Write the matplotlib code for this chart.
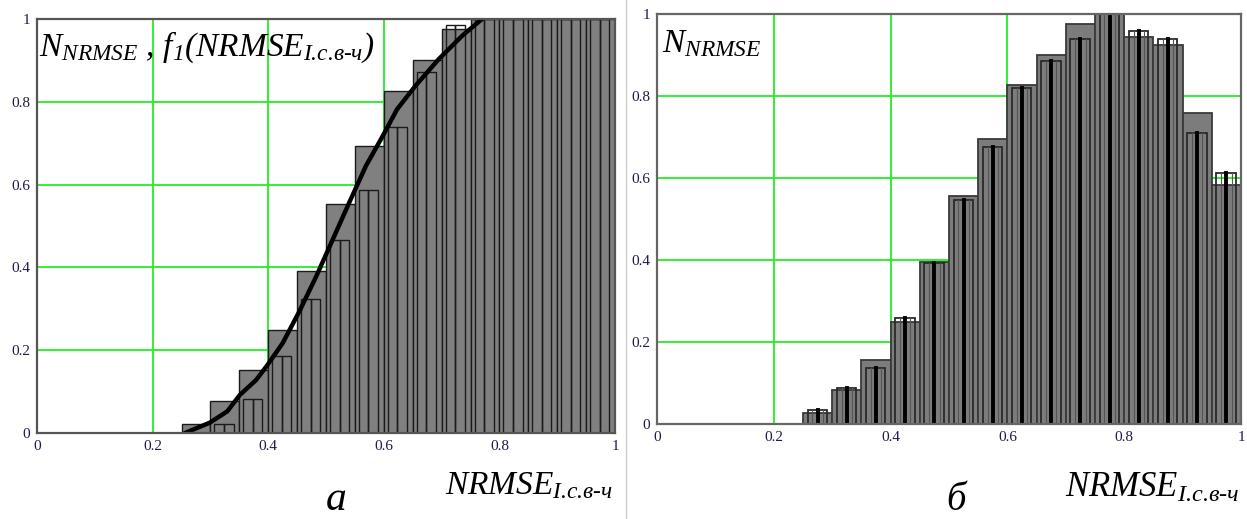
import matplotlib.pyplot as plt
from matplotlib.lines import Line2D

plt.rcParams['mathtext.fontset'] = 'custom'
plt.rcParams['mathtext.rm'] = 'Liberation Serif:italic'
plt.rcParams['mathtext.it'] = 'Liberation Serif:italic'
plt.rcParams['font.family'] = ['Liberation Serif', 'DejaVu Serif']

# bin left edges (bin width 0.05)
bin_left = [0.25, 0.30, 0.35, 0.40, 0.45, 0.50, 0.55, 0.60, 0.65, 0.70,
            0.75, 0.80, 0.85, 0.90, 0.95]

# panel a: wide bars, narrow bars, smooth curve f1
a_wide = [0.022, 0.078, 0.153, 0.248, 0.391, 0.554, 0.693, 0.826, 0.901, 0.976,
          1.0, 1.0, 1.0, 1.0, 1.0]
a_narrow = [0.0, 0.022, 0.082, 0.187, 0.324, 0.467, 0.587, 0.739, 0.872, 0.986,
            1.0, 1.0, 1.0, 1.0, 1.0]
curve_x = [0.256, 0.299, 0.329, 0.351, 0.379, 0.397, 0.425, 0.454, 0.483, 0.509,
           0.540, 0.569, 0.598, 0.623, 0.655, 0.695, 0.736, 0.770]
curve_y = [0.0, 0.025, 0.052, 0.092, 0.128, 0.161, 0.217, 0.294, 0.378, 0.459,
           0.556, 0.645, 0.717, 0.782, 0.839, 0.903, 0.960, 1.0]

# panel b: wide bars and narrow bars
b_wide = [0.026, 0.083, 0.156, 0.250, 0.394, 0.556, 0.694, 0.827, 0.900, 0.975,
          1.0, 0.945, 0.924, 0.758, 0.583]
b_narrow = [0.033, 0.089, 0.136, 0.259, 0.393, 0.546, 0.675, 0.819, 0.885, 0.939,
            1.0, 0.959, 0.938, 0.709, 0.611]

ticks = [0, 0.2, 0.4, 0.6, 0.8, 1]
tick_labels = ['0', '0.2', '0.4', '0.6', '0.8', '1']

SUB = r'\text{I.с.в-ч}'

W, H = 1247, 519
fig = plt.figure(figsize=(W / 100, H / 100), dpi=100)


def px_axes(x0, y0, x1, y1):
    return fig.add_axes([x0 / W, 1 - y1 / H, (x1 - x0) / W, (y1 - y0) / H])


def style_axes(ax, edge):
    ax.set_xlim(0, 1)
    ax.set_ylim(0, 1)
    ax.set_xticks(ticks)
    ax.set_yticks(ticks)
    ax.set_xticklabels(tick_labels)
    ax.set_yticklabels(tick_labels)
    ax.tick_params(length=0, labelsize=11, labelcolor='#1c1c48', pad=5)
    ax.set_axisbelow(True)
    ax.grid(True, color='#22ee22', lw=1.3)
    for s in ax.spines.values():
        s.set_color(edge)
        s.set_linewidth(1.6)


w = 0.05

# ---- panel a ----
ax1 = px_axes(37, 19, 615, 433)
style_axes(ax1, '#555555')
ax1.bar(bin_left, a_wide, width=w, align='edge', color='#808080',
        edgecolor='#1a1a1a', lw=1.0)
sub_w = 0.0165
for xl, h in zip(bin_left, a_narrow):
    if h <= 0:
        continue
    ax1.bar([xl + 0.007, xl + 0.007 + sub_w], [h, h], width=sub_w, align='edge',
            facecolor='none', edgecolor='#1a1a1a', lw=1.0)
ax1.plot(curve_x, curve_y, color='black', lw=3.2, solid_capstyle='round')
ax1.text(0.003, 0.975, r'$N_{NRMSE}\ ,\,f_{1}(NRMSE_{' + SUB + '})$',
         transform=ax1.transAxes, fontsize=24, va='top', ha='left')

# ---- panel b ----
ax2 = px_axes(657, 14, 1241, 424)
style_axes(ax2, '#666666')
ax2.bar(bin_left, b_wide, width=w, align='edge', color='#7c7c7c',
        edgecolor='#3a3a3a', lw=1.3)
for xl, h in zip(bin_left, b_narrow):
    ax2.bar([xl + 0.008], [h], width=0.033, align='edge', facecolor='none',
            edgecolor='#2a2a2a', lw=1.3)
    for dx in [0.016, 0.034]:
        ax2.plot([xl + dx, xl + dx], [0, h], color='#555555', lw=0.8)
    ax2.plot([xl + 0.025, xl + 0.025], [0, h], color='black', lw=2.8)
ax2.text(0.008, 0.965, r'$N_{NRMSE}$', transform=ax2.transAxes, fontsize=24,
         va='top', ha='left')

# axis labels and panel letters
fig.text(613 / W, 1 - 494 / H, r'$NRMSE_{' + SUB + '}$', fontsize=24,
         ha='right', va='baseline')
fig.text(1240 / W, 1 - 497 / H, r'$NRMSE_{' + SUB + '}$', fontsize=25,
         ha='right', va='baseline')
fig.text(336 / W, 1 - 510 / H, r'$a$', fontsize=30, ha='center', va='baseline')
fig.text(957 / W, 1 - 510 / H, r'$б$', fontsize=28, ha='center', va='baseline')

# thin separator between panels
fig.add_artist(Line2D([626 / W, 626 / W], [0, 1], transform=fig.transFigure,
                      color='#cccccc', lw=1.0))

fig.savefig('out.png', dpi=100)
